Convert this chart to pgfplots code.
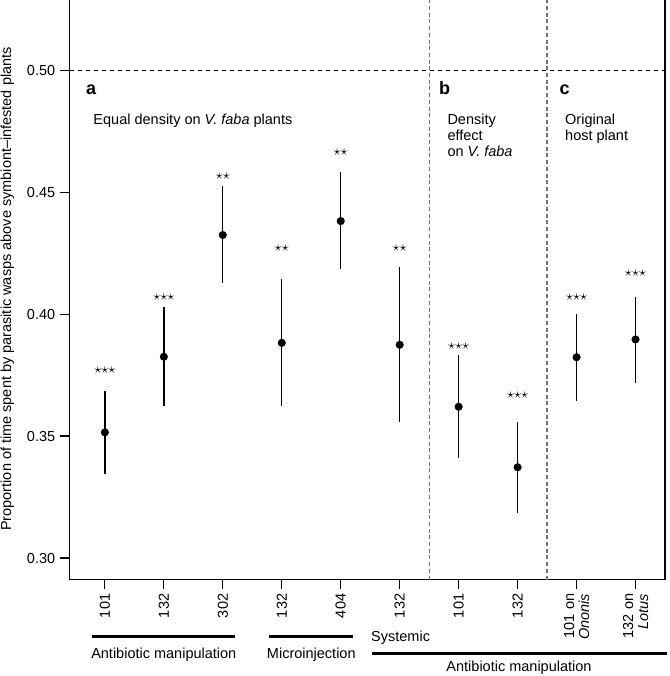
\documentclass[border=0pt]{standalone}
\usepackage{fontspec}
\setmainfont{Liberation Sans}
\usepackage{pgfplots}
\usepackage{pgfplotstable}
\pgfplotsset{compat=1.18}
\newcommand\st{\mathord{\star}}
\pgfplotstableread{
x y ep em
1 0.3515 0.0169 0.0169
2 0.3825 0.0202 0.0202
3 0.4324 0.0201 0.0198
4 0.3882 0.0261 0.0259
5 0.4381 0.0200 0.0198
6 0.3874 0.0317 0.0318
7 0.3620 0.0211 0.0211
8 0.3372 0.0187 0.0186
9 0.3823 0.0178 0.0181
10 0.3896 0.0175 0.0178
}\datatable
\begin{document}
\fontsize{14.5bp}{17bp}\selectfont
\begin{tikzpicture}
\path[use as bounding box] (0,0) rectangle (670bp,-676bp);
\begin{axis}[
  name=ax,
  at={(69.5bp,-579.5bp)}, anchor=south west,
  scale only axis, width=595.5bp, height=579.7bp,
  xmin=0.4, xmax=10.5, ymin=0.2912, ymax=0.5288,
  axis line style={line width=1.1bp},
  tick style={line width=1.1bp, black},
  tick align=outside, major tick length=9.3bp,
  xtick={1,2,3,4,5,6,7,8,9,10},
  xticklabels={101,132,302,132,404,132,101,132,{101 on\\\textit{Ononis}},{132 on\\\textit{Lotus}}},
  xticklabel style={rotate=90, anchor=east, align=right, font=\fontsize{14.5bp}{15bp}\selectfont},
  ytick={0.30,0.35,0.40,0.45,0.50},
  yticklabel style={/pgf/number format/fixed, /pgf/number format/fixed zerofill, /pgf/number format/precision=2, font=\fontsize{14.5bp}{15bp}\selectfont},
  /pgf/number format/assume math mode=true,
  xtick pos=bottom, ytick pos=left,
  clip=false,
]
\addplot[black, dash pattern=on 4.5bp off 3.5bp, line width=1bp] coordinates {(0.4,0.5) (10.5,0.5)};
\addplot[black!55, dash pattern=on 4bp off 2.7bp, line width=1.3bp] coordinates {(6.5,0.2912) (6.5,0.5288)};
\addplot[black!55, dash pattern=on 4bp off 2.7bp, line width=1.3bp] coordinates {(8.5,0.2912) (8.5,0.5288)};
\addplot[only marks, mark=*, mark size=3.8bp, black,
  error bars/.cd, y dir=both, y explicit, error mark=none,
  error bar style={line width=1.4bp, black}]
  table[x=x, y=y, y error plus=ep, y error minus=em] {\datatable};
\pgfplotsset{every axis/.append style={}}
\tikzset{stars/.style={font=\fontsize{14.5bp}{14.5bp}\selectfont}}
\node[stars] at (axis cs:1,0.3770) {$\st\st\st$};
\node[stars] at (axis cs:2,0.4068) {$\st\st\st$};
\node[stars] at (axis cs:3,0.4567) {$\st\st$};
\node[stars] at (axis cs:4,0.4269) {$\st\st$};
\node[stars] at (axis cs:5,0.4665) {$\st\st$};
\node[stars] at (axis cs:6,0.4269) {$\st\st$};
\node[stars] at (axis cs:7,0.3869) {$\st\st\st$};
\node[stars] at (axis cs:8,0.3669) {$\st\st\st$};
\node[stars] at (axis cs:9,0.4068) {$\st\st\st$};
\node[stars] at (axis cs:10,0.4169) {$\st\st\st$};
\end{axis}
\begin{scope}[x=1bp, y=-1bp]
\node[rotate=90, inner sep=0] at (7.5,289) {Proportion of time spent by parasitic wasps above symbiont–infested plants};
\node[anchor=base west, inner sep=0, font=\bfseries\fontsize{18bp}{18bp}\selectfont] at (86,94) {a};
\node[anchor=base west, inner sep=0, font=\bfseries\fontsize{18bp}{18bp}\selectfont] at (439,94) {b};
\node[anchor=base west, inner sep=0, font=\bfseries\fontsize{18bp}{18bp}\selectfont] at (559.3,94) {c};
\node[anchor=base west, inner sep=0] at (93.3,124) {Equal density on \textit{V. faba} plants};
\node[anchor=base west, inner sep=0] at (447.3,124) {Density};
\node[anchor=base west, inner sep=0] at (447.3,140.3) {effect};
\node[anchor=base west, inner sep=0] at (447.3,156.7) {on \textit{V. faba}};
\node[anchor=base west, inner sep=0] at (565,124) {Original};
\node[anchor=base west, inner sep=0] at (565,140.5) {host plant};
\draw[line width=2.6bp] (92.3,636.3) -- (235.3,636.3);
\node[anchor=base, inner sep=0] at (163.8,658.3) {Antibiotic manipulation};
\draw[line width=2.6bp] (269.3,636.3) -- (353.3,636.3);
\node[anchor=base, inner sep=0] at (311.3,658.3) {Microinjection};
\node[anchor=base west, inner sep=0] at (371,641.7) {Systemic};
\draw[line width=2.6bp] (371.7,653.3) -- (667.3,653.3);
\node[anchor=base, inner sep=0] at (519,671.7) {Antibiotic manipulation};
\end{scope}
\end{tikzpicture}
\end{document}
